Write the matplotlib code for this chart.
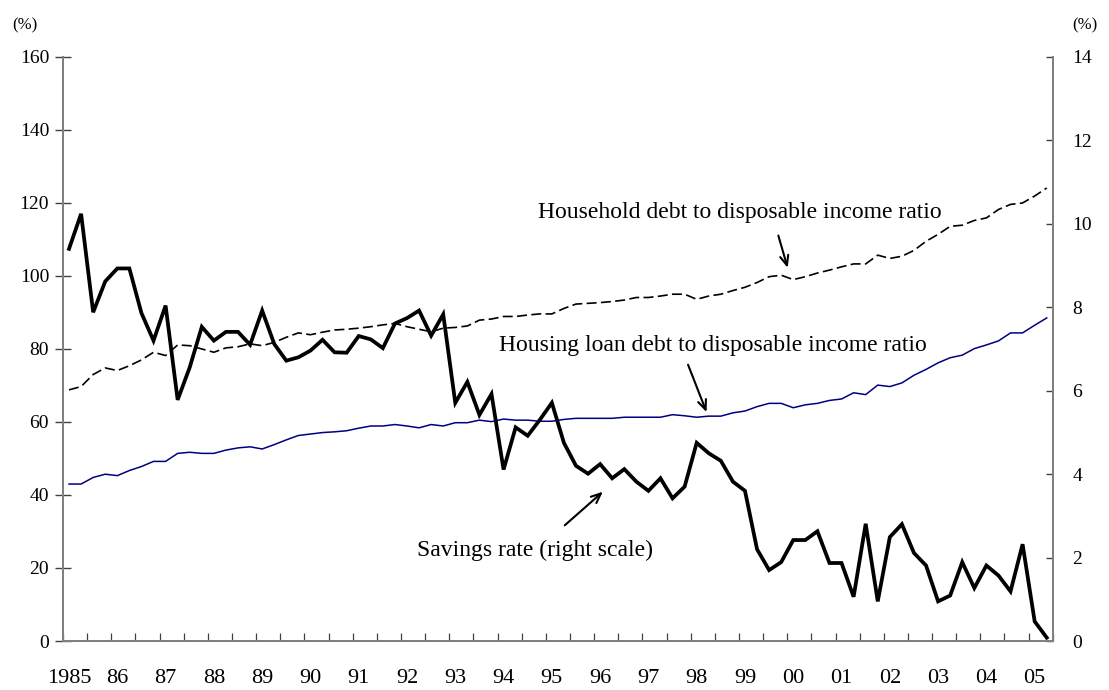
import numpy as np
import matplotlib
matplotlib.use("Agg")
import matplotlib.pyplot as plt

plt.rcParams['font.family'] = ['Liberation Serif', 'DejaVu Serif']

# ── Data: quarterly, 1985Q1 - 2005Q2 ──────────────────────────────────────────
household_debt = [
    68.8, 69.7, 73.0, 74.8, 74.1, 75.4, 77.0, 79.1, 78.2, 81.1,
    80.9, 80.0, 79.1, 80.3, 80.6, 81.4, 80.9, 81.8, 83.2, 84.4,
    83.9, 84.6, 85.2, 85.4, 85.7, 86.1, 86.6, 87.0, 86.1, 85.4,
    84.7, 85.7, 85.9, 86.3, 87.9, 88.2, 88.9, 88.9, 89.3, 89.6,
    89.6, 91.1, 92.3, 92.5, 92.7, 93.0, 93.4, 94.1, 94.1, 94.5,
    95.0, 95.0, 93.6, 94.5, 95.0, 96.0, 96.9, 98.2, 99.8, 100.2,
    99.0, 99.8, 100.8, 101.6, 102.5, 103.3, 103.3, 105.7, 104.8, 105.4,
    107.0, 109.5, 111.4, 113.6, 113.9, 115.2, 115.9, 118.2, 119.6, 120.0,
    121.9, 124.1,
]
housing_debt = [
    43.0, 43.0, 44.8, 45.7, 45.3, 46.7, 47.8, 49.2, 49.2, 51.4,
    51.7, 51.4, 51.4, 52.3, 52.9, 53.2, 52.6, 53.8, 55.1, 56.3,
    56.7, 57.1, 57.3, 57.6, 58.3, 58.9, 58.9, 59.3, 58.9, 58.4,
    59.3, 58.9, 59.8, 59.8, 60.5, 60.1, 60.8, 60.5, 60.5, 60.2,
    60.2, 60.7, 61.0, 61.0, 61.0, 61.0, 61.3, 61.3, 61.3, 61.3,
    62.0, 61.7, 61.3, 61.6, 61.6, 62.5, 63.0, 64.2, 65.1, 65.1,
    63.9, 64.7, 65.1, 65.9, 66.3, 68.0, 67.5, 70.1, 69.7, 70.7,
    72.8, 74.4, 76.2, 77.6, 78.3, 80.1, 81.1, 82.2, 84.4, 84.4,
    86.5, 88.5,
]
savings_rate = [
    9.40, 10.24, 7.88, 8.62, 8.93, 8.93, 7.86, 7.20, 8.04, 5.78,
    6.56, 7.53, 7.20, 7.41, 7.41, 7.10, 7.92, 7.12, 6.72, 6.80,
    6.96, 7.22, 6.92, 6.91, 7.31, 7.23, 7.02, 7.61, 7.74, 7.92,
    7.32, 7.83, 5.71, 6.21, 5.42, 5.92, 4.11, 5.12, 4.92, 5.30,
    5.71, 4.75, 4.20, 4.01, 4.24, 3.90, 4.12, 3.82, 3.60, 3.90,
    3.42, 3.70, 4.75, 4.50, 4.32, 3.82, 3.60, 2.20, 1.70, 1.89,
    2.42, 2.42, 2.63, 1.87, 1.87, 1.06, 2.81, 0.95, 2.49, 2.80,
    2.11, 1.81, 0.95, 1.09, 1.89, 1.27, 1.81, 1.57, 1.19, 2.32,
    0.47, 0.08,
]
year_labels = ['1985', '86', '87', '88', '89', '90', '91', '92', '93', '94',
               '95', '96', '97', '98', '99', '00', '01', '02', '03', '04', '05']

n = len(savings_rate)
x = np.arange(n)

# ── Figure ────────────────────────────────────────────────────────────────────
fig = plt.figure(figsize=(11.09, 6.90), dpi=100)
ax = fig.add_axes([0.0568, 0.071, 0.8925, 0.8465])
ax2 = ax.twinx()

ax.plot(x, housing_debt, color='#000080', lw=1.1)
ax.plot(x, household_debt, color='black', lw=1.2, dashes=(6, 2.6))
ax2.plot(x, savings_rate, color='black', lw=2.7, solid_joinstyle='miter')

ax.set_xlim(-0.5, n - 0.5)
ax.set_ylim(0, 160)
ax2.set_ylim(0, 14)
ax.set_yticks(np.arange(0, 161, 20))
ax2.set_yticks(np.arange(0, 15, 2))

ax.set_xticks(np.arange(0, n, 4))
ax.set_xticklabels(year_labels)
ax.set_xticks(np.arange(-0.5, n, 2), minor=True)

grey = '#808080'
for a in (ax, ax2):
    a.spines['top'].set_visible(False)
    for s in ('left', 'right', 'bottom'):
        a.spines[s].set_color(grey)
        a.spines[s].set_linewidth(1.4)

ax.tick_params(axis='x', which='major', length=0, pad=20, labelsize=16)
ax.tick_params(axis='x', which='minor', direction='in', length=6, color='#404040', width=0.9)
ax.tick_params(axis='y', direction='inout', length=12, color='#404040', width=1.0,
               labelsize=14, pad=4)
ax2.tick_params(axis='y', direction='in', length=5, color='#404040', width=1.0,
                labelsize=14, pad=14)

fig.text(0.011, 0.963, '(%)', fontsize=12, va='center')
fig.text(0.967, 0.963, '(%)', fontsize=12, va='center')

# ── Annotations ───────────────────────────────────────────────────────────────
arrow = dict(arrowstyle='->,head_length=0.7,head_width=0.3', color='black', lw=1.5)
ax.text(55.6, 117.5, 'Household debt to disposable income ratio',
        ha='center', va='center', fontsize=17)
ax.annotate('', xy=(59.6, 101.5), xytext=(58.7, 111.8), arrowprops=arrow)

ax.text(53.3, 81.0, 'Housing loan debt to disposable income ratio',
        ha='center', va='center', fontsize=17)
ax.annotate('', xy=(52.9, 62.0), xytext=(51.2, 76.4), arrowprops=arrow)

ax.text(38.6, 24.8, 'Savings rate (right scale)',
        ha='center', va='center', fontsize=17)
ax.annotate('', xy=(44.4, 41.4), xytext=(40.9, 31.2), arrowprops=arrow)

fig.savefig('out.png', dpi=100)
